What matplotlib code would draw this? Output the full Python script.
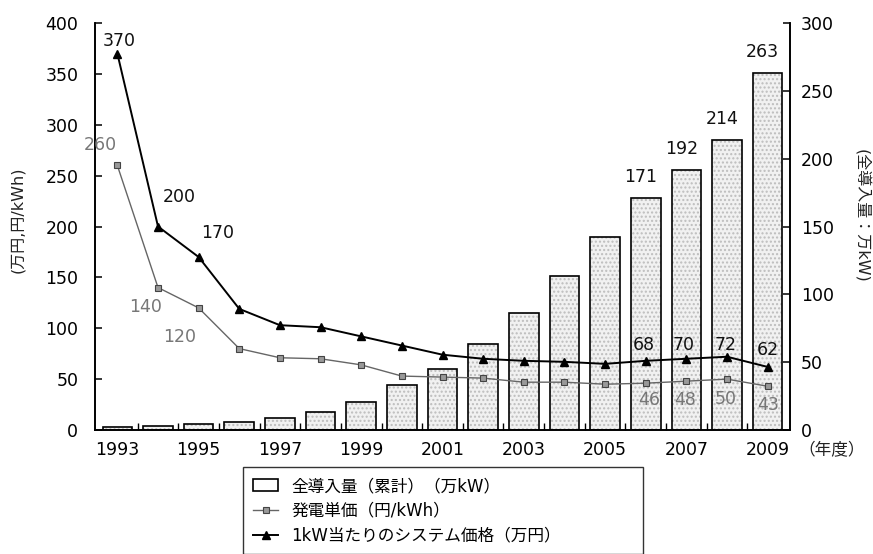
import matplotlib
matplotlib.use("Agg")
import matplotlib.pyplot as plt
import numpy as np

plt.rcParams['font.family'] = ['DejaVu Sans', 'Noto Sans CJK JP']

# 年度別データ
years = np.arange(1993, 2010)
capacity = [2.4, 3.1, 4.3, 6.0, 9.1, 13.3, 20.9, 33.0, 45.2, 63.7, 86.0, 113.2,
            142.2, 171, 192, 214, 263]          # 全導入量（累計）万kW
unit_cost = [260, 140, 120, 80, 71, 70, 64, 53, 52, 51, 47, 47, 45, 46, 48, 50, 43]  # 円/kWh
system_price = [370, 200, 170, 119, 103, 101, 92, 83, 74, 70, 68, 67, 65, 68, 70, 72, 62]  # 万円/kW

year_ticks = np.arange(1993, 2010, 2)
left_ticks = np.arange(0, 401, 50)
right_ticks = np.arange(0, 301, 50)

fig = plt.figure(figsize=(8.73, 5.54), dpi=100)
ax = fig.add_axes([95 / 873, 1 - 430 / 554, 695 / 873, 407 / 554])
ax2 = ax.twinx()

# 棒グラフ（右軸）: 点描風の塗りと黒枠
ax2.bar(years, capacity, width=0.73, color='#f1f1f1', edgecolor='#bdbdbd',
        hatch='....', linewidth=0)
bars = ax2.bar(years, capacity, width=0.73, fill=False, edgecolor='black',
               linewidth=1.2, label='全導入量（累計）（万kW）')
ax2.set_ylim(0, 300)

# 折れ線（左軸）
l1, = ax.plot(years, unit_cost, color='#666666', lw=1.0, marker='s', ms=4.5,
              mfc='#999999', mec='#444444', mew=0.8, label='発電単価（円/kWh）')
l2, = ax.plot(years, system_price, color='black', lw=1.4, marker='^', ms=6,
              mfc='black', mec='black', label='1kW当たりのシステム価格（万円）')
ax.set_ylim(0, 400)
ax.set_xlim(1992.45, 2009.55)
ax.set_zorder(ax2.get_zorder() + 1)
ax.patch.set_visible(False)

# 軸の体裁
for a in (ax, ax2):
    a.spines['top'].set_visible(False)
    a.spines['left'].set_linewidth(1.2)
    a.spines['right'].set_linewidth(1.2)
    a.spines['bottom'].set_linewidth(1.2)
ax.set_yticks(left_ticks)
ax2.set_yticks(right_ticks)
ax.tick_params(axis='y', direction='in', length=5, width=1.1, labelsize=12.5, pad=12)
ax2.tick_params(axis='y', direction='in', length=5, width=1.1, labelsize=12.5, pad=8)
ax.set_xticks(year_ticks)
ax.set_xticks(np.arange(1993.5, 2009, 1), minor=True)
ax.tick_params(axis='x', which='major', length=0, labelsize=12.5, pad=8)
ax.tick_params(axis='x', which='minor', direction='in', length=5, width=1.0)
ax2.tick_params(axis='x', which='both', length=0)

fig.text(18 / 873, 1 - 220 / 554, '(万円,円/kWh)', rotation=90,
         ha='center', va='center', fontsize=11.5, color='#222222')
fig.text(862 / 873, 1 - 216 / 554, '(全導入量：万kW)', rotation=270,
         ha='center', va='center', fontsize=11.5, color='#222222')
fig.text(832 / 873, 1 - 450 / 554, '（年度）', ha='center', va='center',
         fontsize=12, color='#222222')

# 数値ラベル
def note(a, i, vals, dx, dy, color):
    a.annotate(str(vals[i]), (years[i], vals[i]), xytext=(dx, dy),
               textcoords='offset pixels', ha='center', va='center',
               fontsize=12.5, color=color)

for i, dx, dy in [(0, 2, 13), (1, 21, 29), (2, 19, 24),
                  (13, -2, 16), (14, -3, 14), (15, -1, 12), (16, 0, 17)]:
    note(ax, i, system_price, dx, dy, '#111111')
for i, dx, dy in [(0, -17, 20), (1, -12, -19), (2, -19, -29),
                  (13, 3, -17), (14, -1, -19), (15, -1, -20), (16, 0, -19)]:
    note(ax, i, unit_cost, dx, dy, '#777777')
for i in range(13, 17):
    note(ax2, i, capacity, -5, 21, '#111111')

# 凡例
fig.legend([bars, l1, l2], [bars.get_label(), l1.get_label(), l2.get_label()],
           loc='upper left', bbox_to_anchor=(243 / 873, 0, 400 / 873, 1 - 467 / 554),
           bbox_transform=fig.transFigure, mode='expand', borderaxespad=0,
           fancybox=False, edgecolor='#333333', framealpha=1, fontsize=12,
           handlelength=1.5, labelspacing=0.4, borderpad=0.6)

fig.savefig('out.png', dpi=100)
